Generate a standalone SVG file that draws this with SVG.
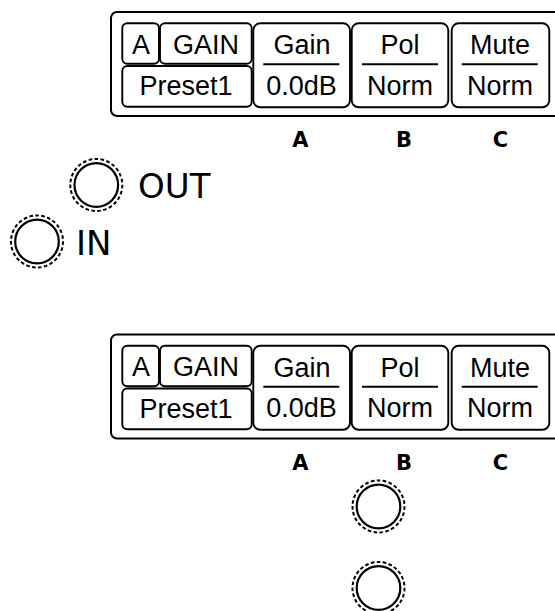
<svg xmlns="http://www.w3.org/2000/svg" width="555" height="611" viewBox="0 0 555 611">
<style>
.frame{fill:none;stroke:#000;stroke-width:2}
.cell{fill:none;stroke:#000;stroke-width:1.9}
.sep{stroke:#000;stroke-width:2}
.t{font-family:"Liberation Sans",Arial,sans-serif;font-size:27px;fill:#000;text-anchor:middle}
.lbl{font-family:"DejaVu Sans",sans-serif;font-weight:bold;font-size:21px;fill:#000;text-anchor:middle}
.big{font-family:"DejaVu Sans",sans-serif;font-size:34px;fill:#000}
.ring{fill:none;stroke:#000;stroke-width:2;stroke-dasharray:3.6 2.4}
.knob{fill:#fff;stroke:#000;stroke-width:2.2}
</style>
<defs>
<g id="panel">
<rect class="frame" x="111" y="12" width="460" height="104" rx="6"/>
<g id="cellA"><rect class="cell" x="122.3" y="23.3" width="36.7" height="40.5" rx="5"/><text class="t" x="141" y="53.5">A</text></g>
<g id="cellGAIN"><rect class="cell" x="160" y="23.3" width="91.7" height="40.5" rx="5"/><text class="t" x="206" y="53.5">GAIN</text></g>
<g id="cellPreset"><rect class="cell" x="122.3" y="66" width="129.4" height="40.7" rx="5"/><text class="t" x="186" y="95">Preset1</text></g>
<g id="cellGain"><rect class="cell" x="253.3" y="23.3" width="96.7" height="84" rx="7"/><text class="t" x="302" y="54">Gain</text><line class="sep" x1="263.3" y1="64.3" x2="339.3" y2="64.3"/><text class="t" x="301.5" y="94.5">0.0dB</text></g>
<g id="cellPol"><rect class="cell" x="351.7" y="23.3" width="96.6" height="84" rx="7"/><text class="t" x="400" y="54">Pol</text><line class="sep" x1="362" y1="64.3" x2="438" y2="64.3"/><text class="t" x="400" y="94.5">Norm</text></g>
<g id="cellMute"><rect class="cell" x="451.7" y="23.3" width="97.6" height="84" rx="7"/><text class="t" x="500" y="54">Mute</text><line class="sep" x1="461.7" y1="64.3" x2="537.7" y2="64.3"/><text class="t" x="500" y="94.5">Norm</text></g>
<text class="lbl" x="300.5" y="147">A</text>
<text class="lbl" x="404" y="147">B</text>
<text class="lbl" x="500.5" y="147">C</text>
</g>
<g id="jack">
<circle class="ring" cx="0" cy="0" r="26"/>
<circle class="knob" cx="0" cy="0" r="21.8"/>
</g>
</defs>
<g id="panel-top"><use href="#panel"/></g>
<g id="panel-bottom"><use href="#panel" transform="translate(0,322.5)"/></g>
<g id="jack-out"><use href="#jack" transform="translate(96.3,185)"/><text class="big" x="138" y="198">OUT</text></g>
<g id="jack-in"><use href="#jack" transform="translate(37,241.5)"/><text class="big" x="76" y="255">IN</text></g>
<g id="knob-1"><use href="#jack" transform="translate(378.5,506.5)"/></g>
<g id="knob-2"><use href="#jack" transform="translate(378.5,588)"/></g>
<g id="connectors"/>
</svg>
